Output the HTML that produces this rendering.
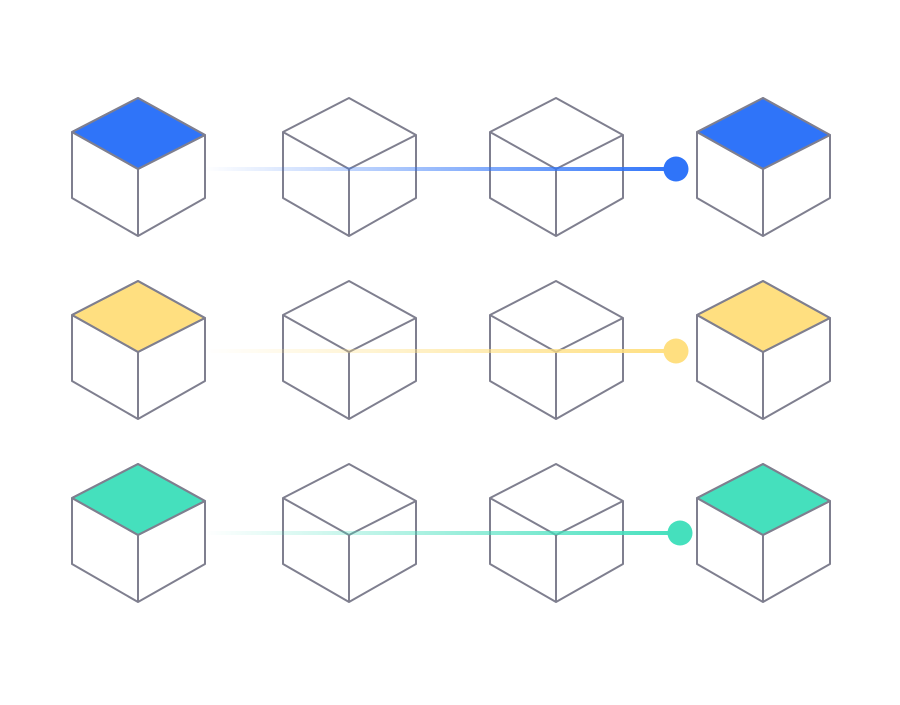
<!DOCTYPE html>
<html><head><style>html,body{margin:0;padding:0;background:#fff}</style></head>
<body>
<svg width="900" height="700" viewBox="0 0 900 700" xmlns="http://www.w3.org/2000/svg">
<defs>
<symbol id="c" overflow="visible">
<path d="M0,34 L0,100 L66,138 L133,100 L133,37 M66,71 L66,138" fill="none" stroke="#7f7f8f" stroke-width="2" stroke-linejoin="round"/>
<path d="M66,0 L0,34 L66,71 L133,37 Z" fill="none" stroke="#7f7f8f" stroke-width="2" stroke-linejoin="round"/>
</symbol>
<linearGradient id="gb" x1="205" x2="676" y1="0" y2="0" gradientUnits="userSpaceOnUse"><stop offset="0" stop-color="#2f74f9" stop-opacity="0"/><stop offset="1" stop-color="#2f74f9"/></linearGradient>
<linearGradient id="gy" x1="205" x2="676" y1="0" y2="0" gradientUnits="userSpaceOnUse"><stop offset="0" stop-color="#ffdf80" stop-opacity="0"/><stop offset="1" stop-color="#ffdf80"/></linearGradient>
<linearGradient id="gg" x1="205" x2="680" y1="0" y2="0" gradientUnits="userSpaceOnUse"><stop offset="0" stop-color="#45e0bd" stop-opacity="0"/><stop offset="1" stop-color="#45e0bd"/></linearGradient>
</defs>

<!-- colored tops -->
<g stroke="#7f7f8f" stroke-width="2" stroke-linejoin="round">
<path transform="translate(72,98)" d="M66,0 L0,34 L66,71 L133,37 Z" fill="#2f74f9"/>
<path transform="translate(697,98)" d="M66,0 L0,34 L66,71 L133,37 Z" fill="#2f74f9"/>
<path transform="translate(72,281)" d="M66,0 L0,34 L66,71 L133,37 Z" fill="#ffdf80"/>
<path transform="translate(697,281)" d="M66,0 L0,34 L66,71 L133,37 Z" fill="#ffdf80"/>
<path transform="translate(72,464)" d="M66,0 L0,34 L66,71 L133,37 Z" fill="#45e0bd"/>
<path transform="translate(697,464)" d="M66,0 L0,34 L66,71 L133,37 Z" fill="#45e0bd"/>
</g>

<use href="#c" x="72" y="98"/><use href="#c" x="283" y="98"/><use href="#c" x="490" y="98"/><use href="#c" x="697" y="98"/>
<use href="#c" x="72" y="281"/><use href="#c" x="283" y="281"/><use href="#c" x="490" y="281"/><use href="#c" x="697" y="281"/>
<use href="#c" x="72" y="464"/><use href="#c" x="283" y="464"/><use href="#c" x="490" y="464"/><use href="#c" x="697" y="464"/>

<rect x="205" y="167" width="471" height="4" fill="url(#gb)"/>
<circle cx="676" cy="169" r="12.5" fill="#2f74f9"/>
<rect x="205" y="349" width="471" height="4" fill="url(#gy)"/>
<circle cx="676" cy="351" r="12.5" fill="#ffdf80"/>
<rect x="205" y="531" width="475" height="4" fill="url(#gg)"/>
<circle cx="680" cy="533" r="12.5" fill="#45e0bd"/>
</svg>
</body></html>
